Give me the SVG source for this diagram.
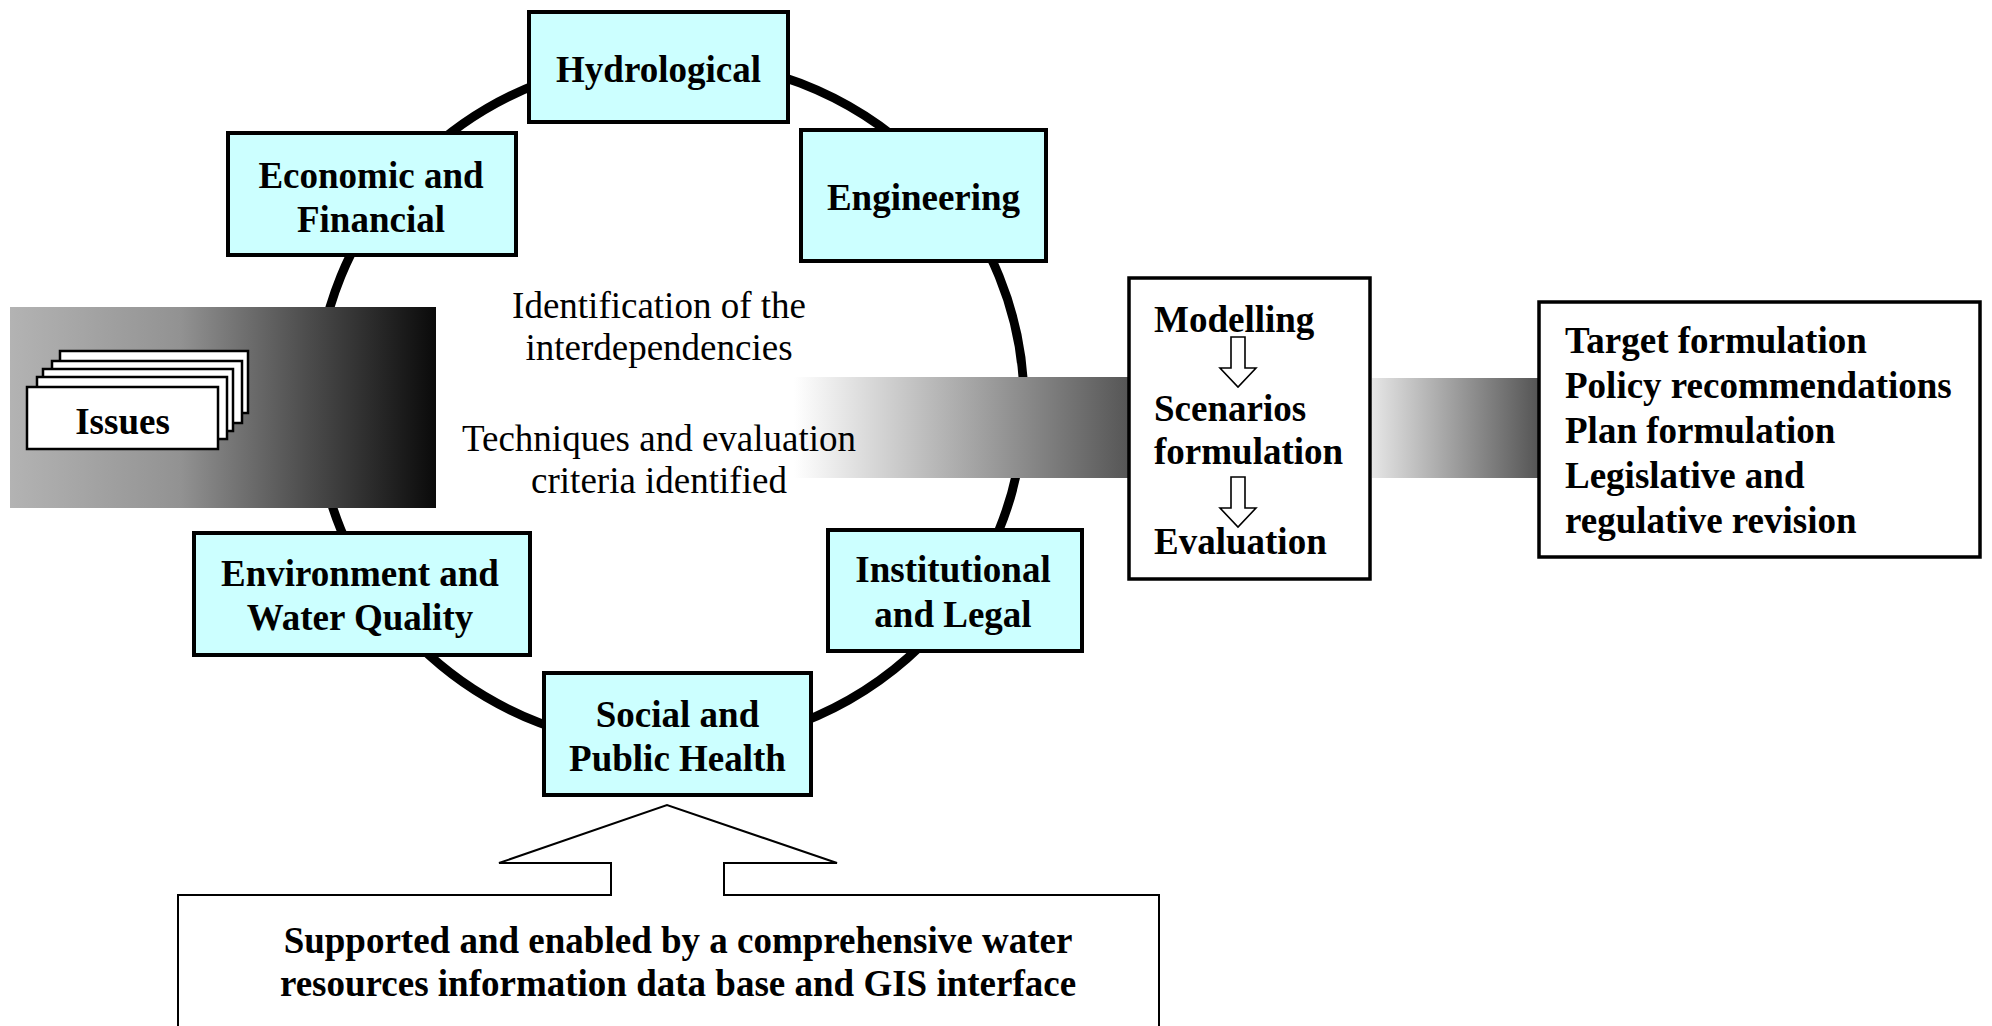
<svg xmlns="http://www.w3.org/2000/svg" width="1992" height="1026" viewBox="0 0 1992 1026">
  <defs>
    <linearGradient id="gIssues" x1="0" y1="0" x2="1" y2="0">
      <stop offset="0" stop-color="#b3b3b3"/>
      <stop offset="0.4" stop-color="#929292"/>
      <stop offset="0.7" stop-color="#4c4c4c"/>
      <stop offset="1" stop-color="#0a0a0a"/>
    </linearGradient>
    <linearGradient id="gMid" x1="0" y1="0" x2="1" y2="0">
      <stop offset="0" stop-color="#ffffff"/>
      <stop offset="1" stop-color="#555555"/>
    </linearGradient>
    <linearGradient id="gRight" x1="0" y1="0" x2="1" y2="0">
      <stop offset="0" stop-color="#e6e6e6"/>
      <stop offset="1" stop-color="#555555"/>
    </linearGradient>
    <style>
      .box { fill: #ccffff; stroke: #000; stroke-width: 4; }
      .panel { fill: #fff; stroke: #000; stroke-width: 3.5; }
      .card { fill: #fff; stroke: #000; stroke-width: 2.5; }
      .b { font-family: "Liberation Serif", "Times New Roman", serif; font-weight: bold; font-size: 37px; fill: #000; }
      .r { font-family: "Liberation Serif", "Times New Roman", serif; font-size: 37px; fill: #000; }
      .c { text-anchor: middle; }
      .ring { fill: none; stroke: #000; stroke-width: 9; }
      .thin { fill: #fff; stroke: #000; stroke-width: 2; }
      .step { fill: #fff; stroke: #000; stroke-width: 1.6; }
    </style>
  </defs>

  <rect width="1992" height="1026" fill="#fff"/>

  <!-- connectors: the ring linking the disciplines -->
  <g id="connectors">
    <ellipse class="ring" cx="670" cy="403" rx="354" ry="344"/>
  </g>

  <!-- shaded flow bands -->
  <g id="bands">
    <rect id="issues-band" x="10" y="307" width="426" height="201" fill="url(#gIssues)"/>
    <rect id="mid-band" x="794" y="377" width="336" height="101" fill="url(#gMid)"/>
    <rect id="right-band" x="1372" y="378" width="166" height="100" fill="url(#gRight)"/>
  </g>

  <!-- issues stack -->
  <g id="issues">
    <rect class="card" x="60" y="351" width="188" height="62"/>
    <rect class="card" x="52" y="361" width="190" height="62"/>
    <rect class="card" x="43" y="369" width="190" height="62"/>
    <rect class="card" x="37" y="377" width="190" height="62"/>
    <rect class="card" x="27" y="387" width="191" height="62"/>
    <text class="b c" x="122.5" y="434">Issues</text>
  </g>

  <g id="hydrological">
    <rect class="box" x="529" y="12" width="259" height="110"/>
    <text class="b c" x="658.5" y="82">Hydrological</text>
  </g>

  <g id="economic">
    <rect class="box" x="228" y="133" width="288" height="122"/>
    <text class="b c" x="371" y="188">Economic and</text>
    <text class="b c" x="371" y="232">Financial</text>
  </g>

  <g id="engineering">
    <rect class="box" x="801" y="130" width="245" height="131"/>
    <text class="b c" x="923.5" y="210">Engineering</text>
  </g>

  <g id="environment">
    <rect class="box" x="194" y="533" width="336" height="122"/>
    <text class="b c" x="360" y="586">Environment and</text>
    <text class="b c" x="360" y="630">Water Quality</text>
  </g>

  <g id="institutional">
    <rect class="box" x="828" y="530" width="254" height="121"/>
    <text class="b c" x="953" y="582">Institutional</text>
    <text class="b c" x="953" y="627">and Legal</text>
  </g>

  <g id="social">
    <rect class="box" x="544" y="673" width="267" height="122"/>
    <text class="b c" x="677.5" y="727">Social and</text>
    <text class="b c" x="677.5" y="771">Public Health</text>
  </g>

  <!-- notes inside the ring -->
  <g id="notes">
    <text class="r c" x="659" y="318">Identification of the</text>
    <text class="r c" x="659" y="360">interdependencies</text>
    <text class="r c" x="659" y="451">Techniques and evaluation</text>
    <text class="r c" x="659" y="493">criteria identified</text>
  </g>

  <g id="analysis">
    <rect class="panel" x="1129" y="278" width="241" height="301"/>
    <text class="b" x="1154" y="332">Modelling</text>
    <path class="step" d="M1231,337 H1245 V368 H1256 L1238,387 L1220,368 H1231 Z"/>
    <text class="b" x="1154" y="421">Scenarios</text>
    <text class="b" x="1154" y="464">formulation</text>
    <path class="step" d="M1231,477 H1245 V508 H1256 L1238,527 L1220,508 H1231 Z"/>
    <text class="b" x="1154" y="554">Evaluation</text>
  </g>

  <g id="outcomes">
    <rect class="panel" x="1539" y="302" width="441" height="255"/>
    <text class="b" x="1565" y="353">Target formulation</text>
    <text class="b" x="1565" y="398">Policy recommendations</text>
    <text class="b" x="1565" y="443">Plan formulation</text>
    <text class="b" x="1565" y="488">Legislative and</text>
    <text class="b" x="1565" y="533">regulative revision</text>
  </g>

  <!-- support base with its upward arrow -->
  <g id="support">
    <path class="thin" d="M178,1030 V895 H611 V863 H499 L667,805 L837,863 H724 V895 H1159 V1030"/>
    <text class="b c" x="678" y="953">Supported and enabled by a comprehensive water</text>
    <text class="b c" x="678" y="996">resources information data base and GIS interface</text>
  </g>
</svg>
